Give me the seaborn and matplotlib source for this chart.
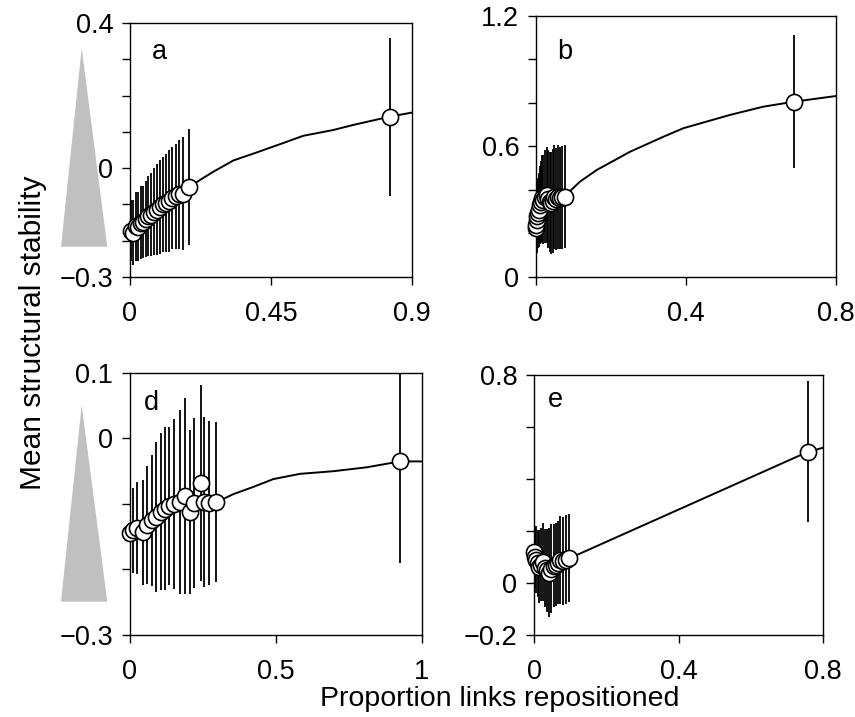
import matplotlib
matplotlib.use("Agg")
import matplotlib.pyplot as plt
import seaborn as sns
import pandas as pd
from matplotlib.patches import Polygon

sns.set_style("ticks")
plt.rcParams["font.family"] = ["Liberation Sans", "DejaVu Sans"]
plt.rcParams["text.color"] = "black"
plt.rcParams["axes.labelcolor"] = "black"

# ---- panel a ----
a_x = [0.003, 0.010, 0.018, 0.026, 0.034, 0.042, 0.050, 0.059, 0.068, 0.077,
       0.086, 0.095, 0.105, 0.115, 0.125, 0.135, 0.146, 0.158, 0.170, 0.188, 0.830]
a_y = [-0.172, -0.178, -0.160, -0.162, -0.150, -0.148, -0.140, -0.132, -0.128, -0.120,
       -0.115, -0.108, -0.100, -0.095, -0.090, -0.083, -0.078, -0.072, -0.070, -0.052, 0.141]
a_err = [0.085, 0.090, 0.095, 0.095, 0.100, 0.100, 0.105, 0.110, 0.115, 0.120,
         0.125, 0.130, 0.130, 0.135, 0.140, 0.140, 0.145, 0.150, 0.155, 0.160, 0.217]
a_fit_x = [0.188, 0.223, 0.266, 0.330, 0.404, 0.489, 0.553, 0.649, 0.713, 0.830, 0.900]
a_fit_y = [-0.053, -0.033, -0.010, 0.021, 0.043, 0.069, 0.089, 0.105, 0.119, 0.142, 0.153]

# ---- panel b ----
b_x = [0.000, 0.001, 0.002, 0.003, 0.005, 0.008, 0.011, 0.014, 0.017, 0.020, 0.024,
       0.028, 0.032, 0.036, 0.040, 0.044, 0.048, 0.053, 0.058, 0.064, 0.070, 0.076, 0.688]
b_y = [0.225, 0.240, 0.262, 0.280, 0.294, 0.310, 0.331, 0.345, 0.363, 0.355, 0.370,
       0.377, 0.360, 0.345, 0.340, 0.350, 0.368, 0.360, 0.368, 0.362, 0.366, 0.369, 0.806]
b_err = [0.130, 0.140, 0.150, 0.155, 0.160, 0.170, 0.180, 0.190, 0.200, 0.205, 0.215,
         0.220, 0.225, 0.230, 0.235, 0.240, 0.240, 0.235, 0.240, 0.235, 0.238, 0.237, 0.306]
b_fit_x = [0.075, 0.117, 0.162, 0.251, 0.340, 0.393, 0.517, 0.606, 0.688, 0.800]
b_fit_y = [0.369, 0.438, 0.492, 0.576, 0.645, 0.684, 0.745, 0.783, 0.806, 0.832]

# ---- panel d ----
d_x = [0.000, 0.012, 0.025, 0.045, 0.060, 0.075, 0.090, 0.105, 0.120, 0.135,
       0.150, 0.170, 0.188, 0.205, 0.220, 0.245, 0.255, 0.270, 0.295, 0.925]
d_y = [-0.145, -0.140, -0.137, -0.143, -0.132, -0.125, -0.120, -0.112, -0.107, -0.103,
       -0.100, -0.097, -0.088, -0.112, -0.098, -0.068, -0.097, -0.098, -0.097, -0.035]
d_err = [0.058, 0.065, 0.070, 0.080, 0.090, 0.100, 0.115, 0.120, 0.125, 0.120,
         0.130, 0.140, 0.150, 0.125, 0.130, 0.150, 0.130, 0.125, 0.122, 0.155]
d_fit_x = [0.297, 0.354, 0.422, 0.491, 0.582, 0.696, 0.811, 0.925, 1.000]
d_fit_y = [-0.097, -0.085, -0.074, -0.062, -0.054, -0.050, -0.044, -0.035, -0.035]

# ---- panel e ----
e_x = [0.000, 0.002, 0.006, 0.010, 0.015, 0.020, 0.025, 0.030, 0.036, 0.042,
       0.048, 0.054, 0.060, 0.066, 0.072, 0.080, 0.088, 0.098, 0.759]
e_y = [0.120, 0.100, 0.090, 0.075, 0.062, 0.070, 0.082, 0.056, 0.048, 0.040,
       0.055, 0.067, 0.070, 0.078, 0.088, 0.085, 0.090, 0.095, 0.505]
e_err = [0.110, 0.120, 0.130, 0.130, 0.140, 0.140, 0.150, 0.150, 0.160, 0.170,
         0.170, 0.160, 0.160, 0.160, 0.170, 0.170, 0.170, 0.170, 0.270]
e_fit_x = [0.098, 0.759, 0.800]
e_fit_y = [0.095, 0.505, 0.520]

panels = [
    dict(tag="a", tag_pos=(0.078, 0.886), x=a_x, y=a_y, err=a_err, fx=a_fit_x, fy=a_fit_y,
         rect=[0.1520, 0.6137, 0.3298, 0.3543],
         xlim=(0, 0.9), xticks=[0, 0.45, 0.9], xlabels=["0", "0.45", "0.9"],
         ylim=(-0.3, 0.4), yticks=[-0.3, -0.2, -0.1, 0, 0.1, 0.2, 0.3, 0.4],
         ylabels=["\u22120.3", "", "", "0", "", "", "", "0.4"]),
    dict(tag="b", tag_pos=(0.070, 0.862), x=b_x, y=b_y, err=b_err, fx=b_fit_x, fy=b_fit_y,
         rect=[0.6269, 0.6137, 0.3509, 0.3640],
         xlim=(0, 0.8), xticks=[0, 0.4, 0.8], xlabels=["0", "0.4", "0.8"],
         ylim=(0, 1.2), yticks=[0, 0.2, 0.4, 0.6, 0.8, 1.0, 1.2],
         ylabels=["0", "", "", "0.6", "", "", "1.2"]),
    dict(tag="d", tag_pos=(0.048, 0.885), x=d_x, y=d_y, err=d_err, fx=d_fit_x, fy=d_fit_y,
         rect=[0.1520, 0.1144, 0.3415, 0.3654],
         xlim=(0, 1.0), xticks=[0, 0.5, 1.0], xlabels=["0", "0.5", "1"],
         ylim=(-0.3, 0.1), yticks=[-0.3, -0.2, -0.1, 0, 0.1],
         ylabels=["\u22120.3", "", "", "0", "0.1"]),
    dict(tag="e", tag_pos=(0.048, 0.904), x=e_x, y=e_y, err=e_err, fx=e_fit_x, fy=e_fit_y,
         rect=[0.6246, 0.1144, 0.3380, 0.3626],
         xlim=(0, 0.8), xticks=[0, 0.4, 0.8], xlabels=["0", "0.4", "0.8"],
         ylim=(-0.2, 0.8), yticks=[-0.2, 0, 0.2, 0.4, 0.6, 0.8],
         ylabels=["\u22120.2", "0", "", "", "", "0.8"]),
]

fig = plt.figure(figsize=(8.55, 7.17), dpi=100)
FS = 19.5
LFS = 20.5

for p in panels:
    ax = fig.add_axes(p["rect"])
    df = pd.DataFrame({"x": p["x"], "y": p["y"], "err": p["err"]})
    fit = pd.DataFrame({"x": p["fx"], "y": p["fy"]})

    ax.vlines(df["x"], df["y"] - df["err"], df["y"] + df["err"],
              color="black", linewidth=1.3, zorder=2)
    sns.lineplot(data=fit, x="x", y="y", ax=ax, color="black",
                 linewidth=1.4, sort=False, estimator=None, zorder=3)
    sns.scatterplot(data=df, x="x", y="y", ax=ax, s=135, color="white",
                    edgecolor="black", linewidth=1.2, zorder=4, clip_on=False)

    ax.set_xlim(*p["xlim"])
    ax.set_ylim(*p["ylim"])
    ax.set_xticks(p["xticks"])
    ax.set_xticklabels(p["xlabels"])
    ax.set_yticks(p["yticks"])
    ax.set_yticklabels(p["ylabels"])
    ax.set_xlabel("")
    ax.set_ylabel("")
    ax.tick_params(direction="out", length=6, width=1.0, labelsize=FS,
                   colors="black")
    ax.tick_params(axis="x", pad=11.5)
    ax.tick_params(axis="y", pad=6)
    for s in ax.spines.values():
        s.set_visible(True)
        s.set_linewidth(1.0)
        s.set_color("black")
    ax.text(p["tag_pos"][0], p["tag_pos"][1], p["tag"], transform=ax.transAxes,
            fontsize=FS, ha="left", va="center", color="black")

W, H = 855.0, 717.0


def wedge(apex, left, right):
    pts = [(x / W, 1 - y / H) for x, y in (apex, left, right)]
    fig.add_artist(Polygon(pts, closed=True, transform=fig.transFigure,
                           facecolor="#c0c0c0", edgecolor="none", zorder=0))


wedge((81.7, 48), (61, 246.7), (107.3, 246.7))
wedge((81.7, 405), (61, 601.7), (107.3, 601.7))

fig.text(33 / W, 1 - 333 / H, "Mean structural stability", rotation=90,
         ha="center", va="center", fontsize=21.5, color="black")
fig.text(500 / W, 1 - 706 / H, "Proportion links repositioned",
         ha="center", va="baseline", fontsize=LFS, color="black")

fig.savefig("out.png", dpi=100)
